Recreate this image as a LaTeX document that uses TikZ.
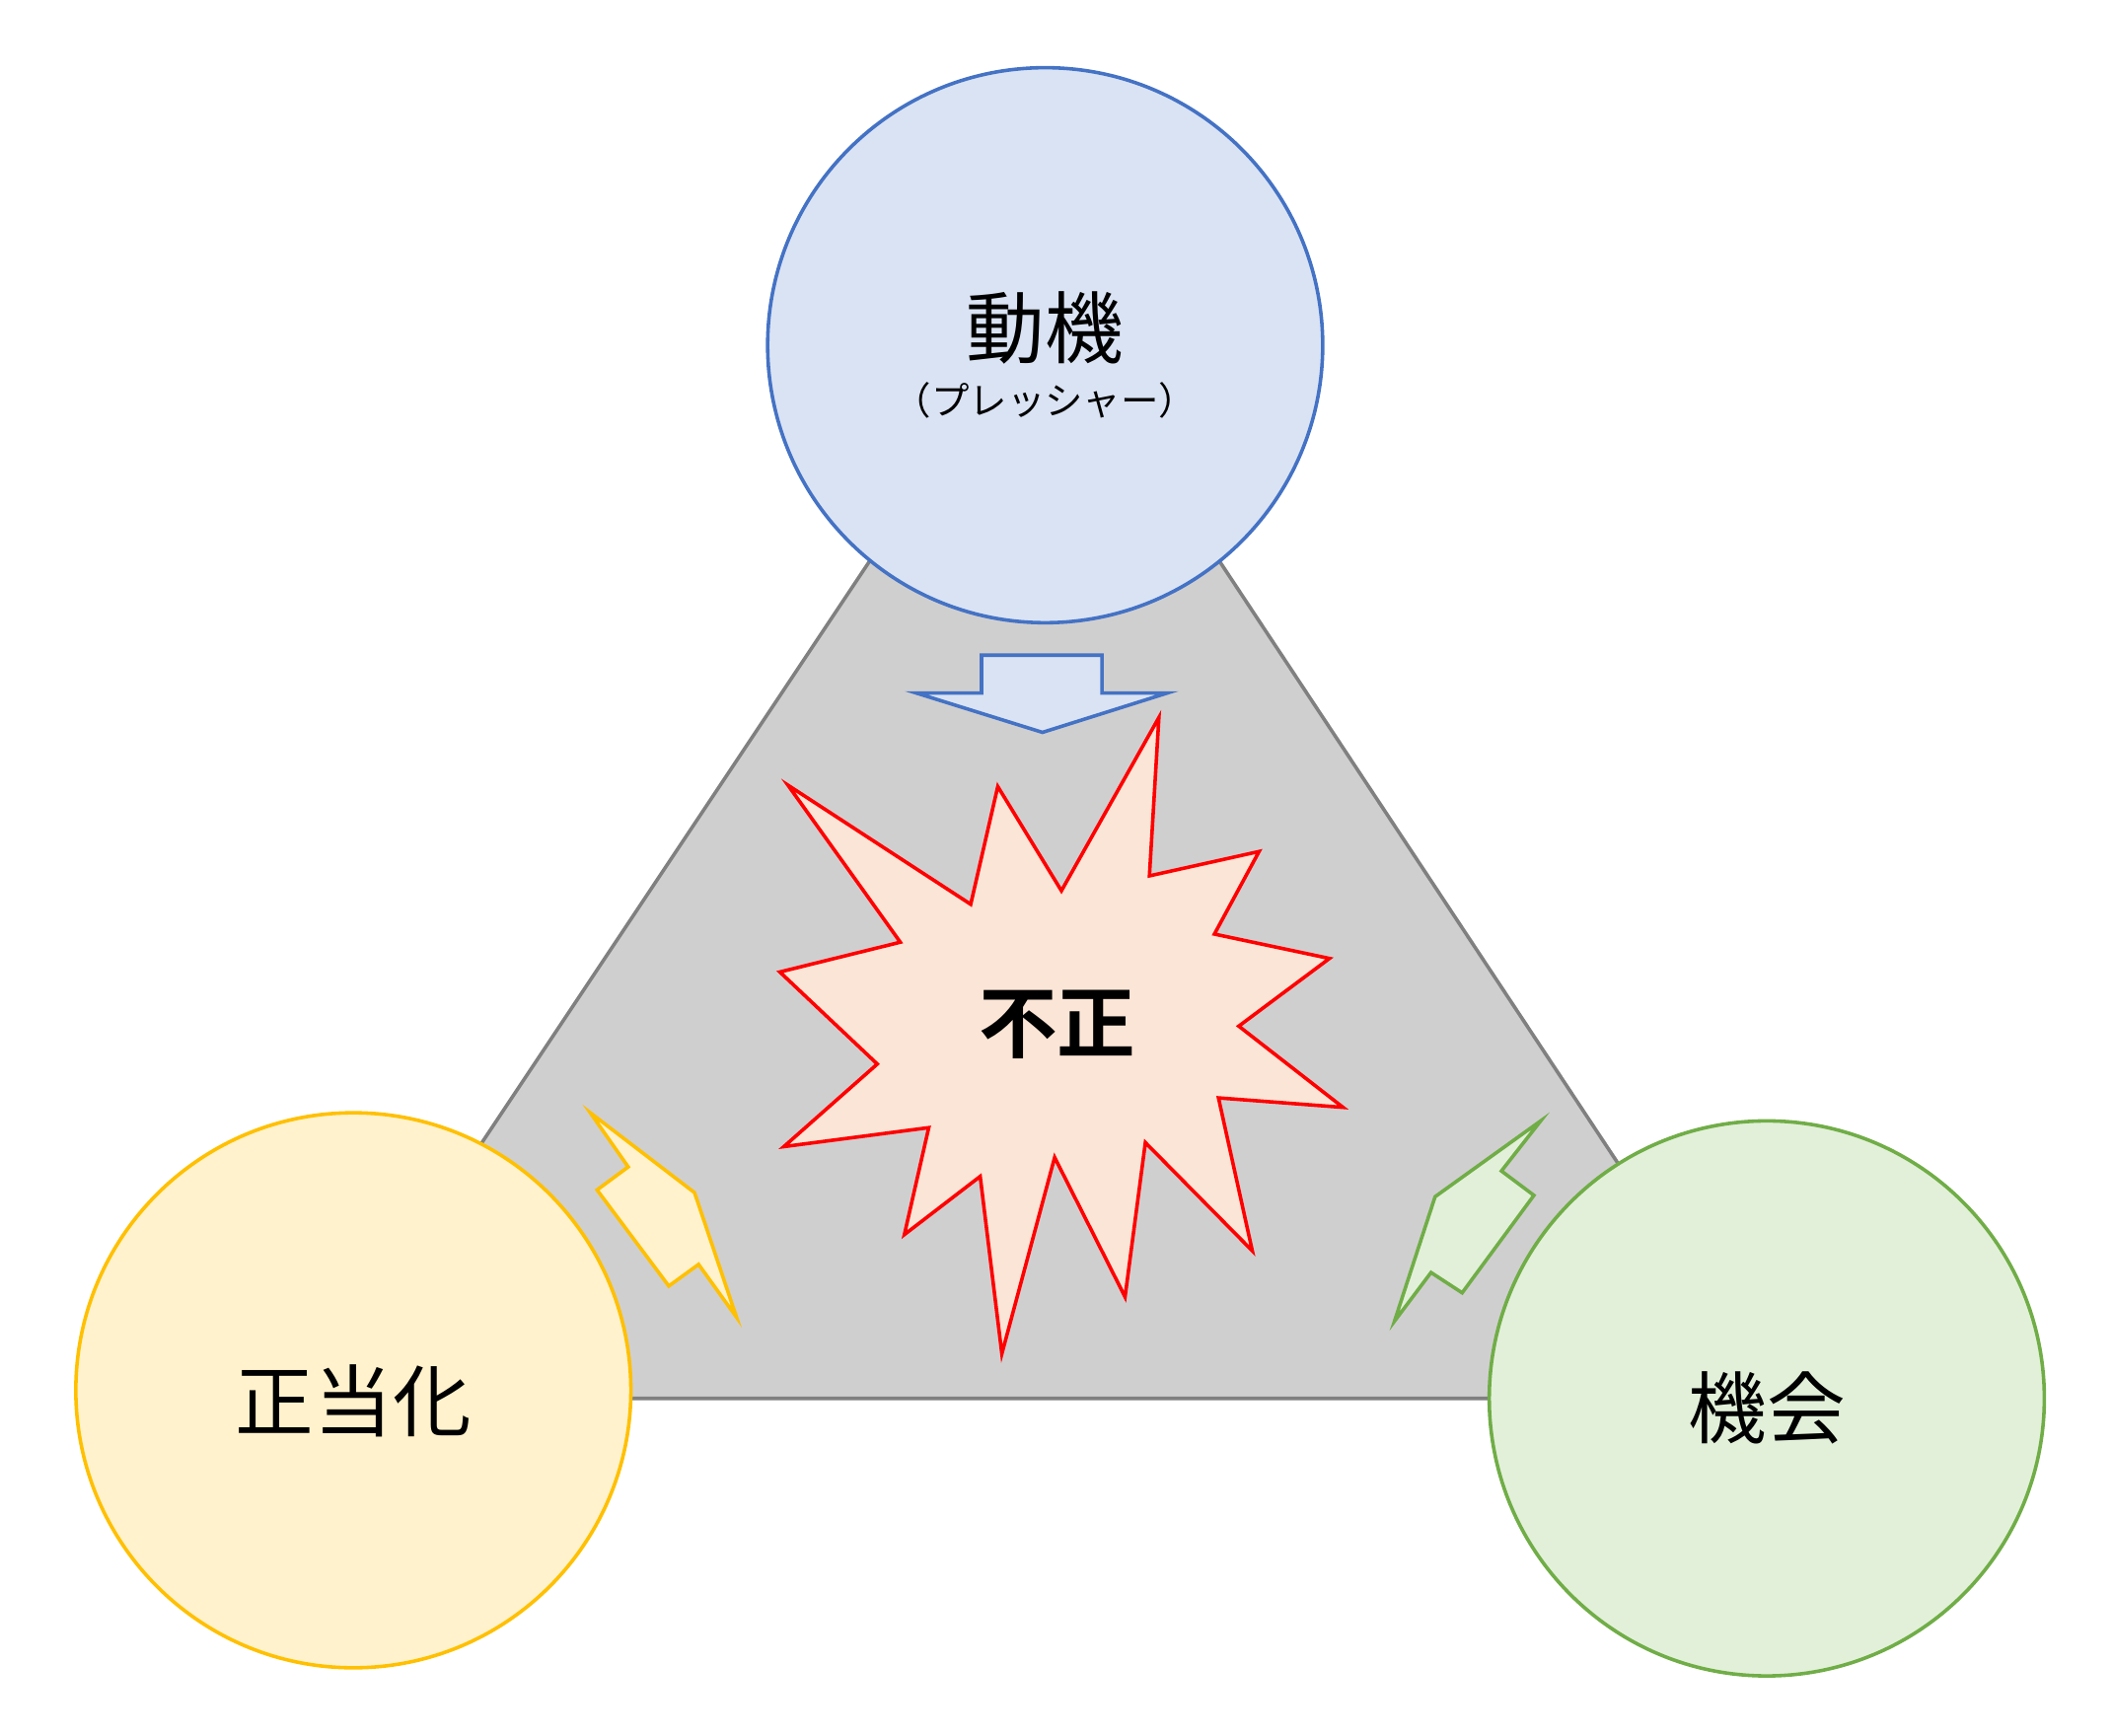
\documentclass[tikz,border=0pt]{standalone}
\usepackage{fontspec}
\newfontfamily\jp{Noto Sans CJK JP}
\newfontfamily\jpb{Noto Sans CJK JP Bold}
\definecolor{tri}{HTML}{D0CFD0}
\definecolor{bluef}{HTML}{DAE3F3}\definecolor{blued}{HTML}{4472C4}
\definecolor{yelf}{HTML}{FFF2CC}\definecolor{yeld}{HTML}{FFC000}
\definecolor{grnf}{HTML}{E2F0D9}\definecolor{grnd}{HTML}{70AD47}
\definecolor{redf}{HTML}{FBE5D6}
\begin{document}
\begin{tikzpicture}[x=1pt,y=-1pt,line width=2.6pt,line join=miter]
\useasboundingbox (0,0) rectangle (1560,1282);
\draw[fill=tri,draw=gray] (230,1033) -- (772,220) -- (1310,1033) -- cycle;
\node[circle,minimum size=410pt,inner sep=0pt,fill=bluef,draw=blued] (mot) at (772,255) {};
\node[circle,minimum size=410pt,inner sep=0pt,fill=yelf,draw=yeld] (rat) at (261,1027) {};
\node[circle,minimum size=410pt,inner sep=0pt,fill=grnf,draw=grnd] (opp) at (1305,1033) {};
\draw[fill=bluef,draw=blued] (725,484) -- (814,484) -- (814,512) -- (862,512) -- (770,541) -- (677,512) -- (725,512) -- cycle;
\draw[fill=redf,draw=red] (582,580) -- (717,668) -- (737,581) -- (784,658) -- (856,530) -- (849,647) -- (930,629) -- (897,690) -- (982,708) -- (915,758) -- (992,818) -- (900,811) -- (925,924) -- (846,844) -- (831,958) -- (779,855) -- (740,1000) -- (724,869) -- (668,912) -- (686,833) -- (579,847) -- (648,786) -- (576,718) -- (665,696) -- cycle;
\draw[fill=yelf,draw=yeld] (436,822) -- (513,881) -- (544,973) -- (516,934) -- (494,950) -- (441,879) -- (464,862) -- cycle;
\draw[fill=grnf,draw=grnd] (1138,828) -- (1060,884) -- (1030,976) -- (1057,940) -- (1080,955) -- (1133,883) -- (1109,865) -- cycle;
\node[font=\jp\fontsize{58}{60}\selectfont] (t1) at (772,242) {動機};
\node[font=\jp\fontsize{28}{30}\selectfont] (t2) at (772,296) {（プレッシャー）};
\node[font=\jpb\fontsize{58}{60}\selectfont] (t3) at (781,757) {不正};
\node[font=\jp\fontsize{58}{60}\selectfont] (t4) at (261,1035) {正当化};
\node[font=\jp\fontsize{58}{60}\selectfont] (t5) at (1305,1040) {機会};
\end{tikzpicture}
\end{document}
